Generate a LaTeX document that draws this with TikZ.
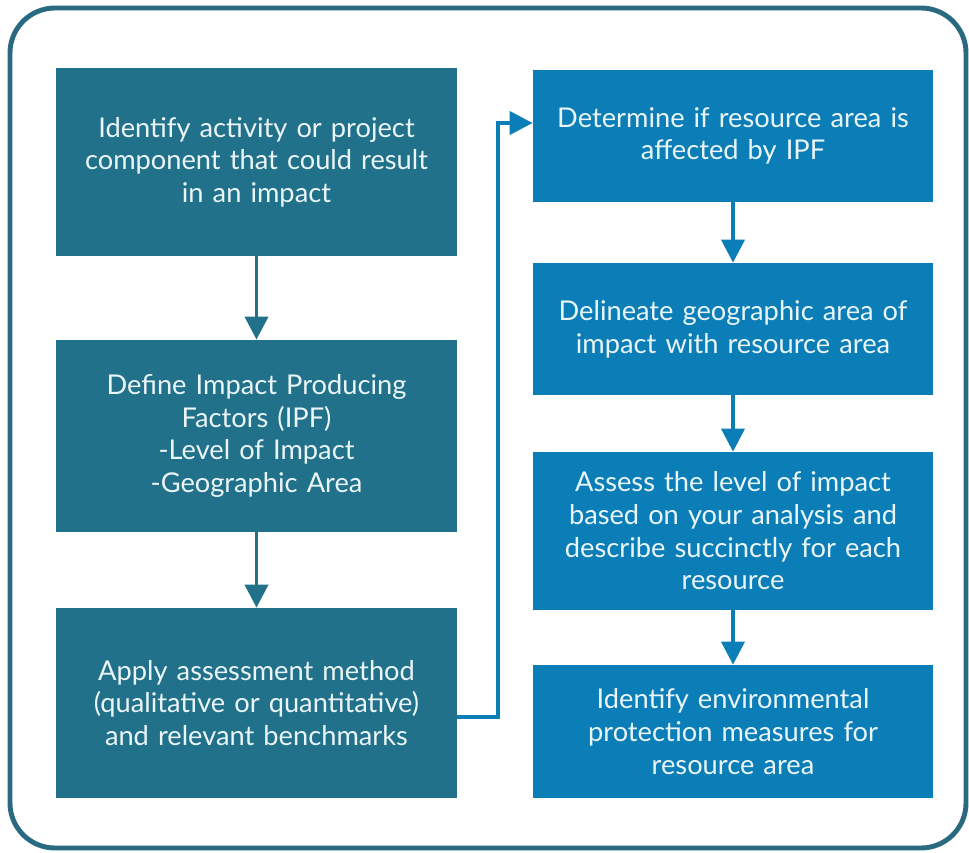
\documentclass[tikz,border=0pt]{standalone}
\usepackage{fontspec}
\setmainfont{Lato}
\usetikzlibrary{arrows.meta,positioning}
\definecolor{IAFrame}{HTML}{2A6A80}
\definecolor{IATeal}{HTML}{22718A}
\definecolor{IABlue}{HTML}{0B7EB8}
\definecolor{IAText}{HTML}{EAF5F8}

\begin{document}
\begin{tikzpicture}[
      stepleft/.style={rectangle,fill=IATeal,text=IAText,text width=7.6cm,
        minimum width=8.02cm,align=center,inner sep=0pt,
        font=\fontsize{15.5}{18.6}\selectfont},
      stepright/.style={rectangle,fill=IABlue,text=IAText,text width=7.6cm,
        minimum width=8.0cm,align=center,inner sep=0pt,
        font=\fontsize{15.5}{18.6}\selectfont},
      leftedge/.style={-{Triangle[length=4.6mm,width=4.6mm]},line width=2.2pt,color=IATeal},
      rightedge/.style={-{Triangle[length=4.6mm,width=4.6mm]},line width=2.2pt,color=IABlue}
    ]
      \useasboundingbox (0,0) rectangle (19.38,-17.04);
      \draw[IAFrame,line width=2.8pt,rounded corners=0.9cm] (0.2,-0.16) rectangle (19.32,-16.96);
      % left column
      \node[stepleft,minimum height=3.76cm] (identify) at (5.13,-3.24)
        {Identify activity or project\\component that could result\\in an impact};
      \node[stepleft,minimum height=3.84cm] (define) at (5.13,-8.72)
        {Define Impact Producing\\Factors (IPF)\\-Level of Impact\\-Geographic Area};
      \node[stepleft,minimum height=3.8cm] (apply) at (5.13,-14.06)
        {Apply assessment method\\(qualitative or quantitative)\\and relevant benchmarks};
      % right column
      \node[stepright,minimum height=2.64cm] (determine) at (14.66,-2.72)
        {Determine if resource area is\\affected by IPF};
      \node[stepright,minimum height=2.64cm] (delineate) at (14.66,-6.58)
        {Delineate geographic area of\\impact with resource area};
      \node[stepright,minimum height=3.16cm] (assess) at (14.66,-10.62)
        {Assess the level of impact\\based on your analysis and\\describe succinctly for each\\resource};
      \node[stepright,minimum height=2.66cm] (protect) at (14.66,-14.63)
        {Identify environmental\\protection measures for\\resource area};
      \draw[leftedge] (identify) -- (define);
      \draw[leftedge] (define) -- (apply);
      \draw[rightedge] (determine) -- (delineate);
      \draw[rightedge] (delineate) -- (assess);
      \draw[rightedge] (assess) -- (protect);
      % jump to the second column
      \coordinate (out) at ([yshift=-0.28cm]apply.east);
      \coordinate (in) at ([yshift=0.26cm]determine.west);
      \draw[rightedge] (out) -| (9.96,0 |- in) -- (in);
    \end{tikzpicture}
\end{document}
